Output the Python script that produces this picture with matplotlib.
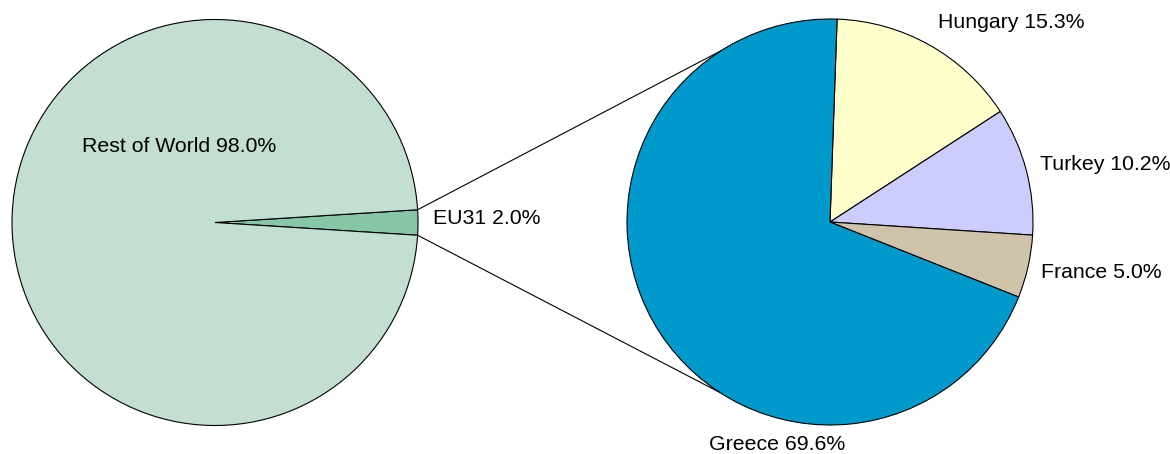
import numpy as np
import matplotlib
matplotlib.use("Agg")
import matplotlib.pyplot as plt

plt.rcParams['font.family'] = ['Liberation Sans', 'DejaVu Sans']

# Data
world_labels = ["EU31", "Rest of World"]
world_values = [2.0, 98.0]
world_colors = ["#86C6A6", "#C2DFD1"]

eu_labels = ["Hungary", "Turkey", "France", "Greece"]
eu_values = [15.3, 10.2, 5.0, 69.6]
eu_colors = ["#FFFFCC", "#CCCCFF", "#CFC3A9", "#0099CC"]

W, H = 1170, 454
fig = plt.figure(figsize=(W / 100, H / 100), dpi=100)
ax = fig.add_axes([0, 0, 1, 1])

def Y(y):
    return H - y

FS = 15.3
wp = dict(edgecolor="black", linewidth=0.8)

# Left pie
lc = (215, Y(222.5))
lr = 203
half = world_values[0] / sum(world_values) * 360 / 2
ax.pie(world_values, colors=world_colors, startangle=-half, counterclock=True,
       center=lc, radius=lr, wedgeprops=wp, frame=False)

# Right pie
rc = (830, Y(222))
rr = 203
ax.pie(eu_values, colors=eu_colors, startangle=88, counterclock=False,
       center=rc, radius=rr, wedgeprops=wp, frame=False)

# Connector lines
for a_left, a_right in [(half, 122.5), (-half, 237.0)]:
    x0 = lc[0] + lr * np.cos(np.radians(a_left))
    y0 = lc[1] + lr * np.sin(np.radians(a_left))
    x1 = rc[0] + rr * np.cos(np.radians(a_right))
    y1 = rc[1] + rr * np.sin(np.radians(a_right))
    ax.plot([x0, x1], [y0, y1], color="black", linewidth=0.8)

def lab(i_lbl, val):
    return f"{i_lbl} {val:.1f}%"

ax.text(179.5, Y(147), lab(world_labels[1], world_values[1]), ha="center", va="center", fontsize=FS)
ax.text(433, Y(219), lab(world_labels[0], world_values[0]), ha="left", va="center", fontsize=FS)
ax.text(938, Y(23), lab(eu_labels[0], eu_values[0]), ha="left", va="center", fontsize=FS)
ax.text(1040, Y(164), lab(eu_labels[1], eu_values[1]), ha="left", va="center", fontsize=FS)
ax.text(1041, Y(273), lab(eu_labels[2], eu_values[2]), ha="left", va="center", fontsize=FS)
ax.text(777, Y(445), lab(eu_labels[3], eu_values[3]), ha="center", va="center", fontsize=FS)

ax.set_xlim(0, W)
ax.set_ylim(0, H)
ax.set_aspect("equal")
ax.axis("off")

fig.savefig("out.png", dpi=100, facecolor="white")
